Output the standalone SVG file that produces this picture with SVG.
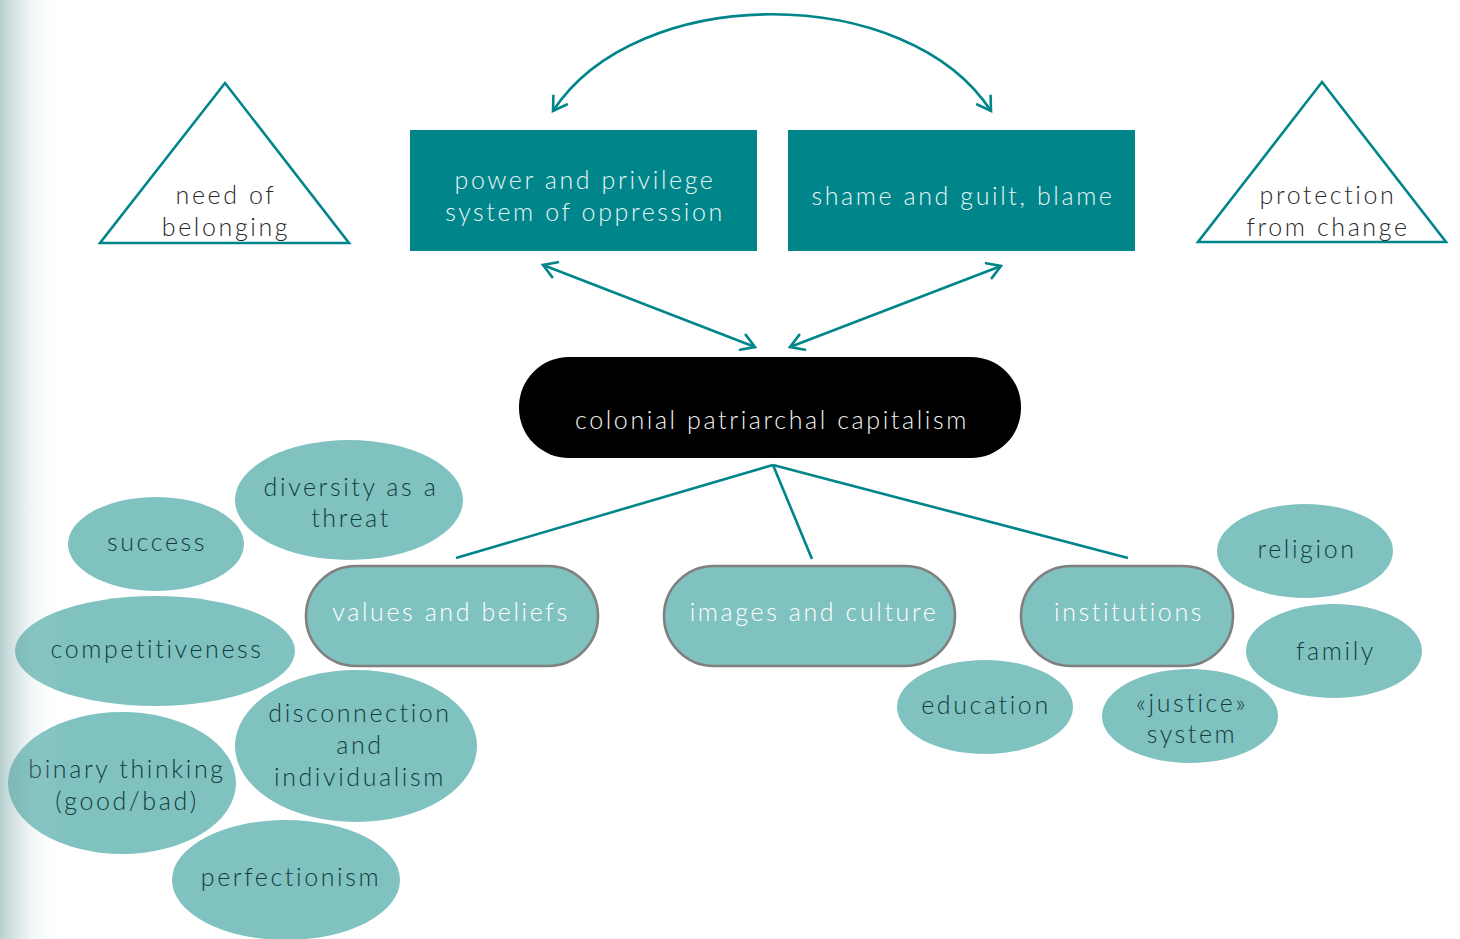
<svg xmlns="http://www.w3.org/2000/svg" width="1460" height="939" viewBox="0 0 1460 939">
  <defs>
    <marker id="vhead" viewBox="0 0 20 20" refX="16" refY="10" markerWidth="20" markerHeight="20" markerUnits="userSpaceOnUse" orient="auto-start-reverse">
      <path d="M3,2 L16,10 L3,18" fill="none" stroke="#00868A" stroke-width="2.6" stroke-linecap="round" stroke-linejoin="miter"/>
    </marker>
    <linearGradient id="edgeShade" x1="0" y1="0" x2="1" y2="0">
      <stop offset="0" stop-color="#6f9f9f" stop-opacity="0.5"/>
      <stop offset="0.45" stop-color="#8fb5b5" stop-opacity="0.18"/>
      <stop offset="1" stop-color="#ffffff" stop-opacity="0"/>
    </linearGradient>
    <style>
      text { font-family: Lato, "Open Sans", "Liberation Sans", sans-serif; font-weight: 300; font-size: 25px; letter-spacing: 2.6px; text-anchor: middle; }
      .tri { fill: none; stroke: #00868A; stroke-width: 2.6; stroke-linejoin: miter; }
      .tri-t { fill: #2a2a2a; }
      .box { fill: #00868A; }
      .box-t { fill: #e6f4f4; }
      .core { fill: #000000; }
      .core-t { fill: #f2f2f2; }
      .pill { fill: #80C2C0; stroke: #808080; stroke-width: 2.6; }
      .pill-t { fill: #ffffff; }
      .bubble { fill: #80C2C0; }
      .bubble-t { fill: #123c3e; }
      .link { fill: none; stroke: #00868A; stroke-width: 2.6; }
      .arrow { marker-start: url(#vhead); marker-end: url(#vhead); }
    </style>
  </defs>

  <rect x="0" y="0" width="1460" height="939" fill="#ffffff"/>

  <!-- connectors -->
  <g id="connectors">
    <path class="link arrow" d="M553,111 C637,-18 907,-18 991,111"/>
    <line class="link arrow" x1="543" y1="265" x2="755" y2="347"/>
    <line class="link arrow" x1="1001" y1="266" x2="790" y2="347"/>
    <line class="link" x1="773" y1="465" x2="456" y2="558"/>
    <line class="link" x1="773" y1="465" x2="812" y2="559"/>
    <line class="link" x1="773" y1="465" x2="1128" y2="558"/>
  </g>

  <!-- side triangles -->
  <g id="need-of-belonging">
    <polygon class="tri" points="225,83 349,243 100,243"/>
    <text class="tri-t" x="226" y="204">need of</text>
    <text class="tri-t" x="226" y="236">belonging</text>
  </g>
  <g id="protection-from-change">
    <polygon class="tri" points="1322,82 1446,242 1198,242"/>
    <text class="tri-t" x="1328" y="204">protection</text>
    <text class="tri-t" x="1328" y="236">from change</text>
  </g>

  <!-- top boxes -->
  <g id="power-and-privilege">
    <rect class="box" x="410" y="130" width="347" height="121"/>
    <text class="box-t" x="585" y="189">power and privilege</text>
    <text class="box-t" x="585" y="221">system of oppression</text>
  </g>
  <g id="shame-and-guilt">
    <rect class="box" x="788" y="130" width="347" height="121"/>
    <text class="box-t" x="963" y="205">shame and guilt, blame</text>
  </g>

  <!-- central node -->
  <g id="colonial-patriarchal-capitalism">
    <rect class="core" x="519" y="357" width="502" height="101" rx="50" ry="50"/>
    <text class="core-t" x="772" y="429">colonial patriarchal capitalism</text>
  </g>

  <!-- branch pills -->
  <g id="values-and-beliefs">
    <rect class="pill" x="306" y="566" width="292" height="100" rx="50" ry="50"/>
    <text class="pill-t" x="451" y="621">values and beliefs</text>
  </g>
  <g id="images-and-culture">
    <rect class="pill" x="664" y="566" width="291" height="100" rx="50" ry="50"/>
    <text class="pill-t" x="814" y="621">images and culture</text>
  </g>
  <g id="institutions">
    <rect class="pill" x="1021" y="566" width="212" height="100" rx="50" ry="50"/>
    <text class="pill-t" x="1129" y="621">institutions</text>
  </g>

  <!-- values and beliefs bubbles -->
  <g id="diversity-as-a-threat">
    <ellipse class="bubble" cx="349" cy="500" rx="114" ry="60"/>
    <text class="bubble-t" x="351" y="496">diversity as a</text>
    <text class="bubble-t" x="351" y="527">threat</text>
  </g>
  <g id="success">
    <ellipse class="bubble" cx="156" cy="544" rx="88" ry="47"/>
    <text class="bubble-t" x="157" y="551">success</text>
  </g>
  <g id="competitiveness">
    <ellipse class="bubble" cx="155" cy="651" rx="140" ry="55"/>
    <text class="bubble-t" x="157" y="658">competitiveness</text>
  </g>
  <g id="disconnection-and-individualism">
    <ellipse class="bubble" cx="356" cy="746" rx="121" ry="76"/>
    <text class="bubble-t" x="360" y="722">disconnection</text>
    <text class="bubble-t" x="360" y="754">and</text>
    <text class="bubble-t" x="360" y="786">individualism</text>
  </g>
  <g id="binary-thinking">
    <ellipse class="bubble" cx="122" cy="783" rx="114" ry="71"/>
    <text class="bubble-t" x="127" y="778">binary thinking</text>
    <text class="bubble-t" x="127" y="810">(good/bad)</text>
  </g>
  <g id="perfectionism">
    <ellipse class="bubble" cx="286" cy="880" rx="114" ry="60"/>
    <text class="bubble-t" x="291" y="886">perfectionism</text>
  </g>

  <!-- institutions bubbles -->
  <g id="religion">
    <ellipse class="bubble" cx="1305" cy="551" rx="88" ry="47"/>
    <text class="bubble-t" x="1307" y="558">religion</text>
  </g>
  <g id="family">
    <ellipse class="bubble" cx="1334" cy="651" rx="88" ry="47"/>
    <text class="bubble-t" x="1336" y="660">family</text>
  </g>
  <g id="education">
    <ellipse class="bubble" cx="985" cy="707" rx="88" ry="47"/>
    <text class="bubble-t" x="986" y="714">education</text>
  </g>
  <g id="justice-system">
    <ellipse class="bubble" cx="1190" cy="716" rx="88" ry="47"/>
    <text class="bubble-t" x="1192" y="712">«justice»</text>
    <text class="bubble-t" x="1192" y="743">system</text>
  </g>

  <!-- soft shading along the left page edge -->
  <rect x="0" y="0" width="60" height="939" fill="url(#edgeShade)"/>
</svg>
